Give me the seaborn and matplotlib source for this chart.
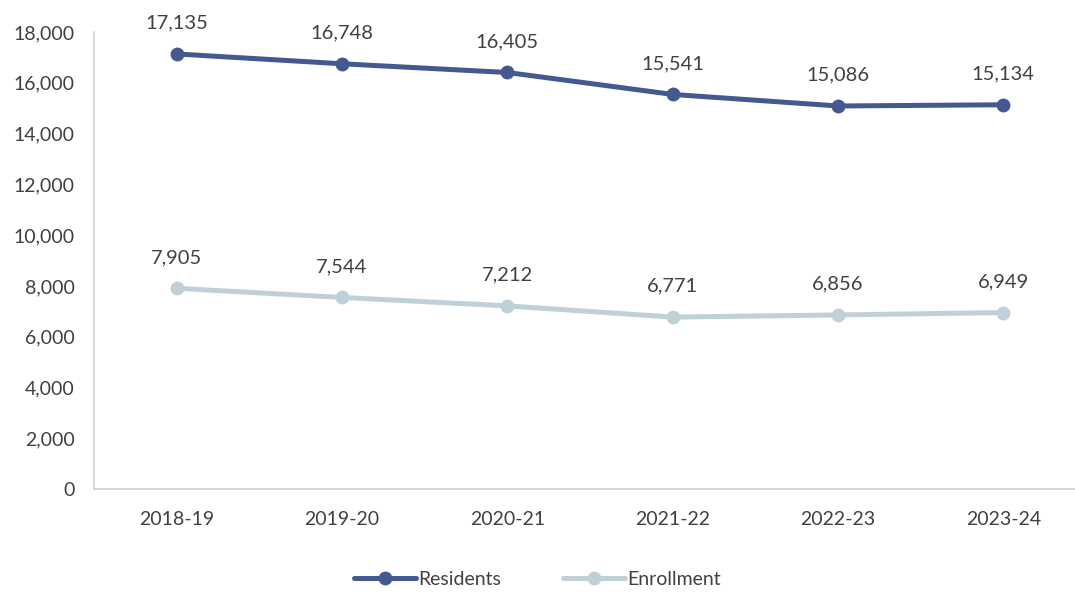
import matplotlib
matplotlib.use('Agg')
import matplotlib.pyplot as plt
import seaborn as sns
import pandas as pd

years = ['2018-19', '2019-20', '2020-21', '2021-22', '2022-23', '2023-24']
residents = [17135, 16748, 16405, 15541, 15086, 15134]
enrollment = [7905, 7544, 7212, 6771, 6856, 6949]

df = pd.DataFrame({
    'year': years * 2,
    'value': residents + enrollment,
    'series': ['Residents'] * len(years) + ['Enrollment'] * len(years),
})

sns.set_style('white')
plt.rcParams['font.family'] = ['Lato', 'DejaVu Sans']

text_color = '#404040'
palette = {'Residents': '#44598f', 'Enrollment': '#c0d0d8'}

fig = plt.figure(figsize=(10.75, 5.95), dpi=100)
ax = fig.add_axes([94 / 1075, 1 - 489 / 595, 992 / 1075, 457 / 595])

sns.lineplot(ax=ax, data=df, x='year', y='value', hue='series',
             palette=palette, marker='o', markersize=10, linewidth=3.6,
             markeredgewidth=0, sort=False)

for vals in (residents, enrollment):
    for i, v in enumerate(vals):
        ax.annotate(f'{v:,}', (i, v), xytext=(0, 16), textcoords='offset points',
                    ha='center', va='bottom', fontsize=14.5, color=text_color)

ax.set_xlim(-0.5, 5.5)
ax.set_ylim(0, 18000)
ax.set_yticks(range(0, 18001, 2000))
ax.yaxis.set_major_formatter(matplotlib.ticker.FuncFormatter(lambda v, p: f'{int(v):,}'))
ax.set_xlabel('')
ax.set_ylabel('')
ax.tick_params(axis='both', length=0, labelsize=14, colors=text_color)
ax.tick_params(axis='x', pad=16)
ax.tick_params(axis='y', pad=14)

for s in ['top', 'right']:
    ax.spines[s].set_visible(False)
for s in ['left', 'bottom']:
    ax.spines[s].set_color('#d0d0d0')
    ax.spines[s].set_linewidth(1.2)

handles, labels = ax.get_legend_handles_labels()
ax.legend(handles, labels, loc='lower center', bbox_to_anchor=(0.5 * 1075 / 992 - 94 / 992, -0.255),
          ncol=2, frameon=False, fontsize=14, labelcolor=text_color,
          handlelength=3.2, handletextpad=0.1, columnspacing=3.2)

fig.savefig('out.png', dpi=100)
